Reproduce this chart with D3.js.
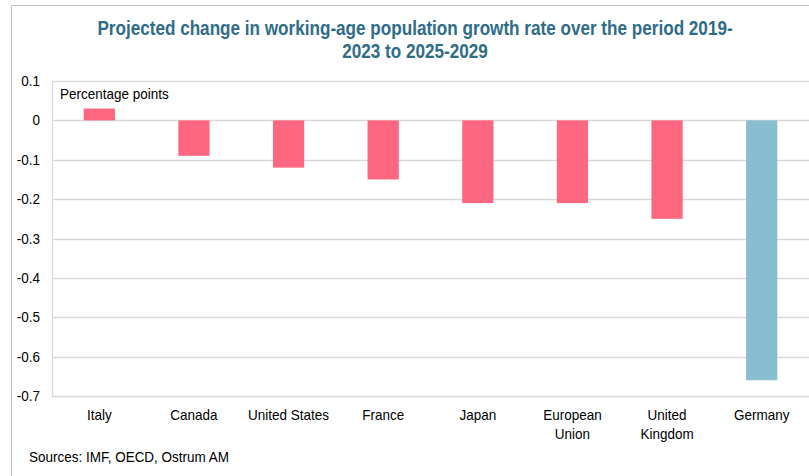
<!DOCTYPE html>
<html>
<head>
<meta charset="utf-8">
<script src="https://cdn.jsdelivr.net/npm/d3@7"></script>
<style>
  body { margin: 0; background: #fff; }
  svg { display: block; font-family: 'Liberation Sans', Arial, sans-serif; }
</style>
</head>
<body>
<div id="chart"></div>
<script>
// Data
const countries = ['Italy', 'Canada', 'United States', 'France', 'Japan', 'European Union', 'United Kingdom', 'Germany']
const labelLines = [['Italy'], ['Canada'], ['United States'], ['France'], ['Japan'], ['European', 'Union'], ['United', 'Kingdom'], ['Germany']]
const values = [0.03, -0.09, -0.12, -0.15, -0.21, -0.21, -0.25, -0.66]
const highlight = ['Germany']
const yTicks = [0.1, 0, -0.1, -0.2, -0.3, -0.4, -0.5, -0.6, -0.7]
const titleLines = ['Projected change in working-age population growth rate over the period 2019-', '2023 to 2025-2029']

const width = 809, height = 476
const margin = { top: 81, left: 52 }
const plotW = 757, plotH = 315
const narrow = 0.9 // Arial Narrow look-alike: squeeze Liberation Sans

const svg = d3.select('#chart').append('svg')
  .attr('width', width)
  .attr('height', height)

// outer frame
svg.append('path')
  .attr('d', `M11.5,${height} V5.5 H${width}`)
  .attr('fill', 'none')
  .attr('stroke', '#c0c0c0')

// title
svg.append('text')
  .attr('transform', `translate(415,35) scale(0.856,1)`)
  .attr('text-anchor', 'middle')
  .attr('font-weight', 'bold')
  .attr('font-size', 20)
  .attr('fill', '#2e6c89')
  .selectAll('tspan')
  .data(titleLines)
  .join('tspan')
    .attr('x', 0)
    .attr('dy', (d, i) => i ? 23 : 0)
    .text(d => d)

const g = svg.append('g').attr('transform', `translate(${margin.left},${margin.top})`)

const x = d3.scaleBand().domain(countries).range([0, plotW]).paddingInner(0.67).paddingOuter(0.335)
const y = d3.scaleLinear().domain([-0.7, 0.1]).range([plotH, 0])

// grid lines
g.append('g')
  .selectAll('line')
  .data(yTicks)
  .join('line')
    .attr('x1', 0).attr('x2', plotW)
    .attr('y1', d => Math.round(y(d)) + 0.5)
    .attr('y2', d => Math.round(y(d)) + 0.5)
    .attr('stroke', '#d9d9d9')
    .attr('stroke-width', 1.3)

// left axis line
g.append('line')
  .attr('x1', 0.5).attr('x2', 0.5)
  .attr('y1', 0).attr('y2', plotH)
  .attr('stroke', '#d9d9d9')
  .attr('stroke-width', 1.3)

// y labels
g.append('g')
  .selectAll('text')
  .data(yTicks)
  .join('text')
    .attr('transform', d => `translate(-12,${y(d) + 5}) scale(${narrow},1)`)
    .attr('text-anchor', 'end')
    .attr('font-size', 15)
    .attr('fill', '#000')
    .text(d => d === 0 ? '0' : d3.format('.1f')(d).replace('−', '-'))

// bars
g.append('g')
  .selectAll('rect')
  .data(countries)
  .join('rect')
    .attr('x', d => x(d))
    .attr('width', x.bandwidth())
    .attr('y', (d, i) => y(Math.max(0, values[i])))
    .attr('height', (d, i) => Math.abs(y(values[i]) - y(0)))
    .attr('fill', d => highlight.includes(d) ? '#89bdd0' : '#ff6680')

// x labels
g.append('g')
  .selectAll('text')
  .data(countries)
  .join('text')
    .attr('transform', d => `translate(${x(d) + x.bandwidth() / 2},${plotH + 24}) scale(${narrow},1)`)
    .attr('text-anchor', 'middle')
    .attr('font-size', 15)
    .attr('fill', '#000')
  .selectAll('tspan')
  .data((d, i) => labelLines[i])
  .join('tspan')
    .attr('x', 0)
    .attr('dy', (d, i) => i ? 19 : 0)
    .text(d => d)

// unit label
g.append('text')
  .attr('transform', `translate(8,18) scale(${narrow},1)`)
  .attr('font-size', 15)
  .attr('fill', '#000')
  .text('Percentage points')

// source
svg.append('text')
  .attr('transform', `translate(29,462) scale(${narrow},1)`)
  .attr('font-size', 15)
  .attr('fill', '#000')
  .text('Sources: IMF, OECD, Ostrum AM')
</script>
</body>
</html>
